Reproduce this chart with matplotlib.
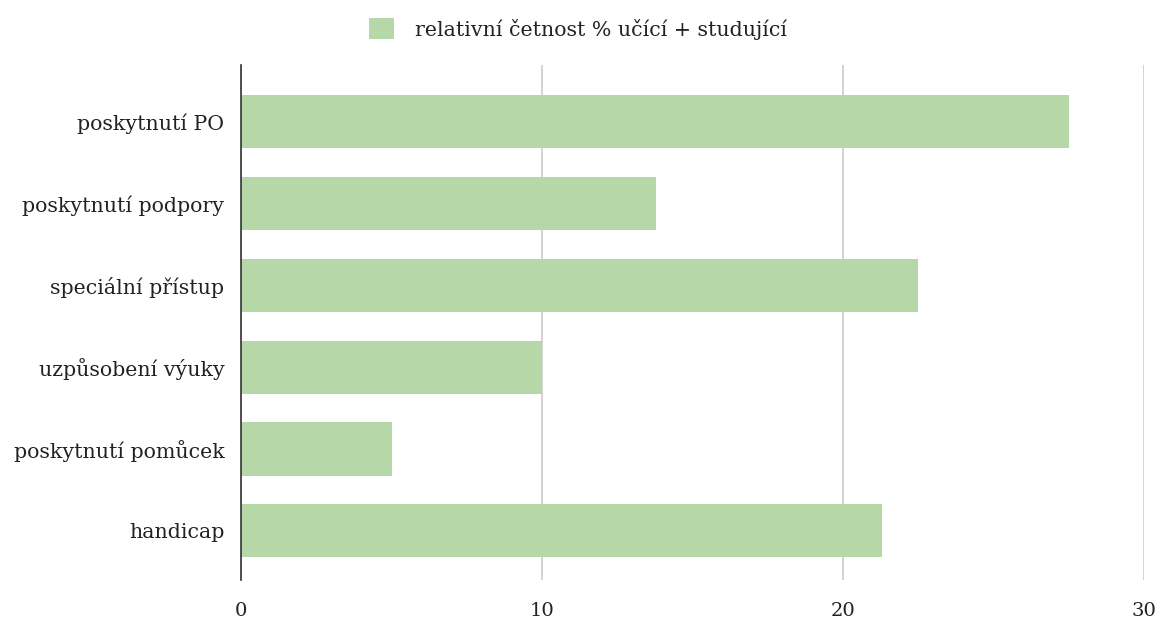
import matplotlib
matplotlib.use("Agg")
import matplotlib.pyplot as plt
from matplotlib.patches import Patch

categories = ["poskytnutí PO", "poskytnutí podpory", "speciální přístup",
              "uzpůsobení výuky", "poskytnutí pomůcek", "handicap"]
values = [27.5, 13.8, 22.5, 10.0, 5.0, 21.3]
xticks = [0, 10, 20, 30]
series_name = "relativní četnost % učící + studující"

plt.rcParams['font.family'] = ['DejaVu Serif', 'Liberation Serif']
bar_color = "#b6d7a8"
text_color = "#222222"

fig = plt.figure(figsize=(11.6, 6.19), dpi=100)
ax = fig.add_axes([241/1160, 1-580/619, (1144-241)/1160, (580-65)/619])

pos = list(range(len(categories)))
ax.barh(pos, values, height=0.65, color=bar_color, zorder=2)
ax.set_ylim(5.6, -0.69)
ax.set_xlim(0, 30)
ax.set_yticks(pos)
ax.set_yticklabels(categories, fontsize=14.8, color=text_color, va='center_baseline')
ax.set_xticks(xticks)
ax.set_xticklabels([str(t) for t in xticks], fontsize=14, color=text_color)
ax.tick_params(axis='both', length=0)
ax.tick_params(axis='y', pad=12)
ax.tick_params(axis='x', pad=16)
ax.grid(axis='x', color="#cccccc", linewidth=1.2, zorder=0)
for s in ['top', 'right', 'bottom']:
    ax.spines[s].set_visible(False)
ax.spines['left'].set_color("#333333")
ax.spines['left'].set_linewidth(1.2)
ax.spines['left'].set_zorder(3)

handle = Patch(facecolor=bar_color, edgecolor='none')
fig.legend([handle], [series_name], loc='center', bbox_to_anchor=(578/1160, 1-29/619),
           frameon=False, fontsize=14.8, handlelength=1.2, handleheight=1.2,
           handletextpad=1.0, labelcolor=text_color)

fig.savefig("out.png", dpi=100)
